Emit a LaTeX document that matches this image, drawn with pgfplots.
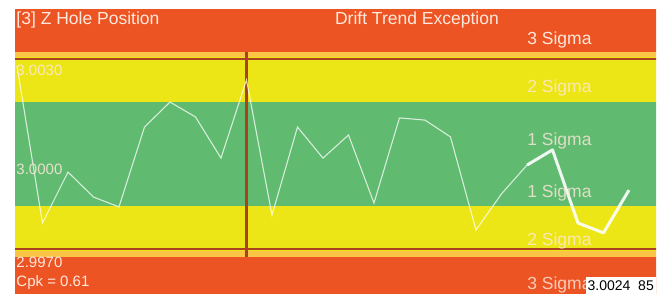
\documentclass[border=0pt]{standalone}
\usepackage{pgfplots}
\pgfplotsset{compat=1.18}
\usepackage{fontspec}
\setmainfont{Liberation Sans}
\definecolor{bgred}{RGB}{236,84,36}
\definecolor{bgyel}{RGB}{236,230,22}
\definecolor{bggrn}{RGB}{96,186,112}
\definecolor{bgorg}{RGB}{250,196,70}
\definecolor{limline}{RGB}{170,66,32}
\definecolor{txt}{RGB}{255,232,220}
\begin{document}
\begin{tikzpicture}
\path (0,0) rectangle (661pt,294pt);
\begin{axis}[
  at={(15pt,0pt)}, anchor=south west,
  width=641pt, height=284pt, scale only axis,
  xmin=-0.078, xmax=25.06,
  ymin=2.995579, ymax=3.004547,
  hide axis, clip=true,
]
% background bands
\fill[bgred] (axis cs:-1,2.99) rectangle (axis cs:26,2.99675);
\fill[bgorg] (axis cs:-1,2.99675) rectangle (axis cs:26,2.99695);
\fill[bgyel] (axis cs:-1,2.99695) rectangle (axis cs:26,2.99835);
\fill[bggrn] (axis cs:-1,2.99835) rectangle (axis cs:26,3.00165);
\fill[bgyel] (axis cs:-1,3.00165) rectangle (axis cs:26,3.00305);
\fill[bgorg] (axis cs:-1,3.00305) rectangle (axis cs:26,3.00322);
\fill[bgred] (axis cs:-1,3.00322) rectangle (axis cs:26,3.01);
% limit lines
\addplot[limline, line width=1.8pt] coordinates {(-1,3.0030) (26,3.0030)};
\addplot[limline, line width=1.8pt] coordinates {(-1,2.9970) (26,2.9970)};
\addplot[limline, line width=2.2pt] coordinates {(9,2.99676) (9,3.00322)};
% data (thin part)
\addplot[white, opacity=0.75, line width=1.1pt] coordinates {
(0,3.00278) (1,2.99782) (2,2.99943) (3,2.99864) (4,2.99833) (5,3.00085)
(6,3.00164) (7,3.00117) (8,2.99987) (9,3.00234) (10,2.99807) (11,3.00085)
(12,2.99987) (13,3.00060) (14,2.99845) (15,3.00114) (16,3.00107) (17,3.00054)
(18,2.99760) (19,2.99874) (20,2.99965)
};
% data (thick recent part)
\addplot[white, opacity=0.9, line width=3pt, line join=round] coordinates {
(20,2.99965) (21,3.00013) (22,2.99782) (23,2.99751) (24,2.99886)
};
% texts
\begin{scope}[every node/.style={anchor=west, inner sep=0pt, text=txt, font=\fontsize{17.5}{19}\selectfont}]
\node at (rel axis cs:0.002,0.965) {[3] Z Hole Position};
\node at (rel axis cs:0.499,0.965) {Drift Trend Exception};
\node at (rel axis cs:0.799,0.894) {3 Sigma};
\node[opacity=0.8] at (rel axis cs:0.799,0.725) {2 Sigma};
\node[opacity=0.8] at (rel axis cs:0.799,0.539) {1 Sigma};
\node[opacity=0.8] at (rel axis cs:0.799,0.356) {1 Sigma};
\node[opacity=0.8] at (rel axis cs:0.799,0.187) {2 Sigma};
\node[opacity=0.8] at (rel axis cs:0.799,0.032) {3 Sigma};
\end{scope}
\begin{scope}[every node/.style={anchor=west, inner sep=0pt, text=txt, font=\fontsize{15}{17}\selectfont}]
\node[opacity=0.85] at (rel axis cs:0.002,0.789) {3.0030};
\node[opacity=0.85] at (rel axis cs:0.002,0.44) {3.0000};
\node at (rel axis cs:0.002,0.113) {2.9970};
\node at (rel axis cs:0.002,0.039) {Cpk = 0.61};
\end{scope}
\node[anchor=south east, fill=white, inner xsep=2pt, inner ysep=1pt, text=black, font=\fontsize{14}{15}\selectfont, minimum height=17pt] at (rel axis cs:1,0) {3.0024\ \ 85};
\end{axis}
\end{tikzpicture}
\end{document}
